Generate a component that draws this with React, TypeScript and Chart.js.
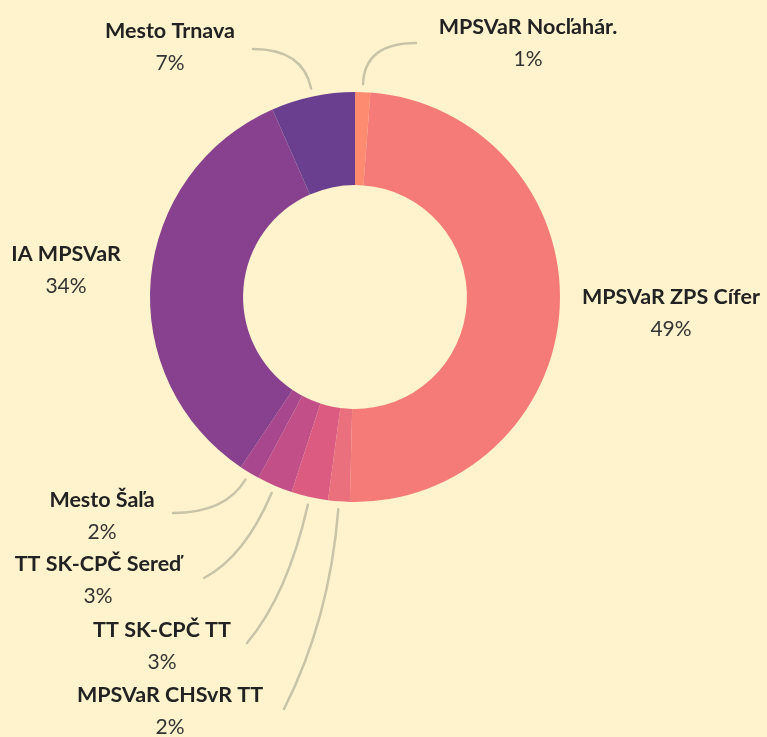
import React, { useEffect, useRef } from "react";
import { Chart, registerables } from "chart.js";

Chart.register(...registerables);

const labels = [
  "MPSVaR Nocľahár.",
  "MPSVaR ZPS Cífer",
  "MPSVaR CHSvR TT",
  "TT SK-CPČ TT",
  "TT SK-CPČ Sereď",
  "Mesto Šaľa",
  "IA MPSVaR",
  "Mesto Trnava",
];
const values = [1.2, 49.2, 1.7, 2.9, 2.8, 1.6, 34.0, 6.6];
const percentLabels = ["1%", "49%", "2%", "3%", "3%", "2%", "34%", "7%"];
const colors = [
  "#fd8b6f",
  "#f47b78",
  "#e9707c",
  "#db5c80",
  "#c24f88",
  "#a8468e",
  "#87418f",
  "#6b3f90",
];

// label layout relative to chart centre: [nameX, nameY], leader end or null, curvature
const labelOffsets: [number, number][] = [
  [173, -270],
  [316, 0],
  [-185, 398],
  [-193, 333],
  [-257, 267],
  [-253, 203],
  [-289, -43],
  [-185, -266],
];
const leaderEnds: ([number, number] | null)[] = [
  [61, -254],
  null,
  [-71, 412],
  [-108, 346],
  [-151, 281],
  [-182, 216],
  null,
  [-102, -248],
];
const leaderCurve = [1, 0, 0.55, 0.65, 0.75, 1, 0, 1];

const BG = "#fef3cd";

const labelPlugin = {
  id: "outsideLabels",
  afterDatasetsDraw(chart: any) {
    const ctx = chart.ctx;
    const meta = chart.getDatasetMeta(0);
    ctx.save();
    meta.data.forEach((arc: any, i: number) => {
      const { x, y, startAngle, endAngle, outerRadius } = arc.getProps(
        ["x", "y", "startAngle", "endAngle", "outerRadius"],
        true
      );
      const mid = (startAngle + endAngle) / 2;
      const dx = Math.cos(mid);
      const dy = Math.sin(mid);
      const end = leaderEnds[i];
      if (end) {
        const sx = x + dx * (outerRadius + 8);
        const sy = y + dy * (outerRadius + 8);
        const ex = x + end[0];
        const ey = y + end[1];
        const t = ((ey - sy) / dy) * leaderCurve[i];
        const cx = sx + dx * t;
        const cy = sy + dy * t;
        ctx.beginPath();
        ctx.moveTo(sx, sy);
        ctx.quadraticCurveTo(cx, cy, ex, ey);
        ctx.strokeStyle = "#c9c3a7";
        ctx.lineWidth = 2.5;
        ctx.lineCap = "round";
        ctx.stroke();
      }
      const lx = x + labelOffsets[i][0];
      const ly = y + labelOffsets[i][1];
      ctx.textAlign = "center";
      ctx.textBaseline = "middle";
      ctx.fillStyle = "#222222";
      ctx.font = "bold 21.5px Lato, 'Noto Sans', sans-serif";
      ctx.fillText(labels[i], lx, ly);
      ctx.fillStyle = "#333333";
      ctx.font = "21px Lato, 'Noto Sans', sans-serif";
      ctx.fillText(percentLabels[i], lx, ly + 32);
    });
    ctx.restore();
  },
};

export default function App() {
  const ref = useRef<HTMLCanvasElement | null>(null);
  useEffect(() => {
    document.body.style.margin = "0";
    document.body.style.background = BG;
    const chart = new Chart(ref.current as HTMLCanvasElement, {
      type: "doughnut",
      data: {
        labels,
        datasets: [
          {
            data: values,
            backgroundColor: colors,
            borderWidth: 0,
          },
        ],
      },
      options: {
        responsive: false,
        animation: false,
        cutout: "54.6%",
        layout: { padding: { left: 150, right: 207, top: 92, bottom: 235 } },
        plugins: {
          legend: { display: false },
          tooltip: { enabled: false },
        },
      },
      plugins: [labelPlugin],
    });
    return () => chart.destroy();
  }, []);
  return (
    <div style={{ width: 767, height: 737, background: BG }}>
      <canvas ref={ref} width={767} height={737} style={{ display: "block" }} />
    </div>
  );
}
